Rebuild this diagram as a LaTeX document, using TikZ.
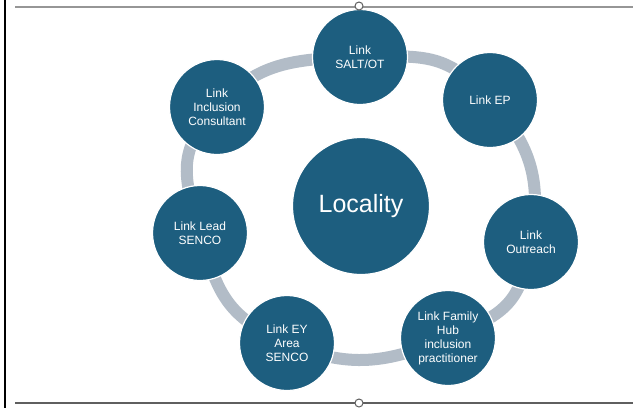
\documentclass[tikz,border=0pt]{standalone}
\usepackage{fontspec}
\setmainfont{Liberation Sans}
\definecolor{hubblue}{RGB}{29,94,127}
\definecolor{ringgrey}{RGB}{178,188,199}
\definecolor{rulegrey}{RGB}{150,150,150}
\definecolor{rulegreydark}{RGB}{95,95,95}
\begin{document}
\begin{tikzpicture}[x=1pt,y=-1pt,
  spoke/.style={circle, fill=hubblue, draw=white, line width=1.2pt,
    minimum size=95pt, inner sep=0pt, text=white, align=center,
    font=\fontsize{12}{14}\selectfont},
  hub/.style={circle, fill=hubblue, draw=white, line width=1.2pt,
    minimum size=137pt, inner sep=0pt, text=white,
    font=\fontsize{25}{28}\selectfont},
  ring/.style={draw=ringgrey, line width=12pt},
  handle/.style={circle, draw=rulegreydark, fill=white, line width=1pt,
    minimum size=8pt, inner sep=0pt}]
\useasboundingbox (0,0) rectangle (633,408);
\fill[white] (0,0) rectangle (633,408);

% frame rules
\draw[black, line width=2.5pt] (5,0) -- (5,408);
\coordinate (tl) at (15,7);
\coordinate (tr) at (633,7);
\coordinate (bl) at (15,403);
\coordinate (br) at (633,403);
\draw[rulegrey, line width=1.5pt] (tl) -- (tr);
\draw[rulegreydark, line width=1.2pt] (bl) -- (br);

% outer ring through the spoke centres
\coordinate (p1) at (360,57);
\coordinate (p2) at (490,100);
\coordinate (p3) at (531,242);
\coordinate (p4) at (448,338);
\coordinate (p5) at (287,343);
\coordinate (p6) at (200,233);
\coordinate (p7) at (217,107);
\draw[ring] plot[smooth cycle, tension=0.9] coordinates {(p1) (p2) (p3) (p4) (p5) (p6) (p7)};

% spokes
\node[spoke] (salt) at (p1) {Link\\SALT/OT};
\node[spoke] (ep) at (p2) {Link EP};
\node[spoke] (outreach) at (p3) {Link\\Outreach};
\node[spoke] (family) at (p4) {Link Family\\Hub\\inclusion\\practitioner};
\node[spoke] (ey) at (p5) {Link EY\\Area\\SENCO};
\node[spoke] (lead) at (p6) {Link Lead\\SENCO};
\node[spoke] (incl) at (p7) {Link\\Inclusion\\Consultant};

% centre
\node[hub] (loc) at (361,206) {Locality};

% selection handles
\node[handle] (htop) at (359,6) {};
\node[handle] (hbot) at (359,403) {};
\end{tikzpicture}
\end{document}
